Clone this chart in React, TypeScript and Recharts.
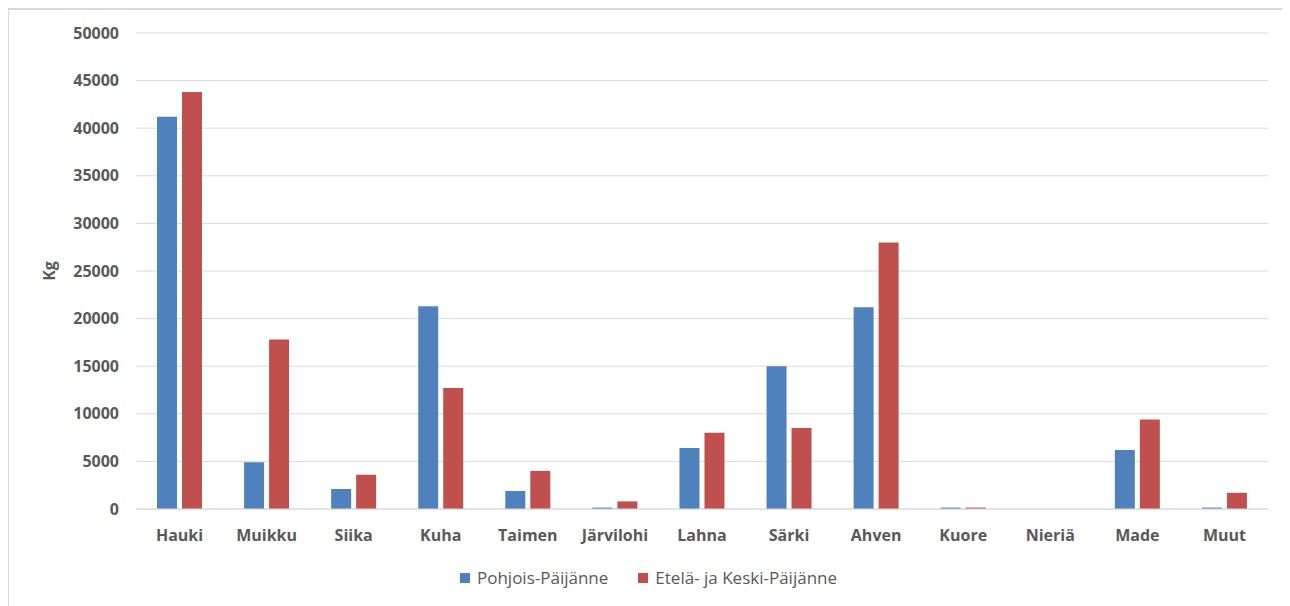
import React from "react";
import { BarChart, Bar, XAxis, YAxis, CartesianGrid, Legend } from "recharts";

const species = [
  "Hauki",
  "Muikku",
  "Siika",
  "Kuha",
  "Taimen",
  "Järvilohi",
  "Lahna",
  "Särki",
  "Ahven",
  "Kuore",
  "Nieriä",
  "Made",
  "Muut",
];
const pohjois = [41200, 4900, 2100, 21300, 1900, 150, 6400, 15000, 21200, 150, 0, 6200, 150];
const etela = [43800, 17800, 3600, 12700, 4000, 800, 8000, 8500, 28000, 150, 0, 9400, 1700];
const yTicks = [0, 5000, 10000, 15000, 20000, 25000, 30000, 35000, 40000, 45000, 50000];
const seriesOrder = ["pohjois", "etela"];

const data = species.map((name, i) => ({
  name,
  pohjois: pohjois[i],
  etela: etela[i],
}));

const FONT = "'Open Sans', sans-serif";
const TEXT_COLOR = "#595959";
const GRID = "#d9d9d9";

const renderKg = ({ viewBox }: any) => {
  const x = 40;
  const y = viewBox.y + viewBox.height / 2;
  return (
    <text
      x={x}
      y={y}
      transform={`rotate(-90, ${x}, ${y})`}
      textAnchor="middle"
      dominantBaseline="central"
      fill={TEXT_COLOR}
      fontFamily={FONT}
      fontSize={16}
      fontWeight="bold"
    >
      Kg
    </text>
  );
};

// oma legenda, jotta välit vastaavat Excelin kuvaa
const renderLegend = ({ payload }: any) => {
  const items = [...(payload || [])].sort(
    (a: any, b: any) => seriesOrder.indexOf(a.dataKey) - seriesOrder.indexOf(b.dataKey)
  );
  return (
    <div style={{ display: "flex", justifyContent: "center", gap: 30 }}>
      {items.map((entry: any) => (
        <div key={entry.dataKey} style={{ display: "flex", alignItems: "center" }}>
          <span
            style={{
              display: "inline-block",
              width: 10,
              height: 10,
              background: entry.color,
              marginRight: 7,
            }}
          />
          <span style={{ color: TEXT_COLOR, fontFamily: FONT, fontSize: 17 }}>
            {entry.value}
          </span>
        </div>
      ))}
    </div>
  );
};

const App: React.FC = () => {
  return (
    <div
      style={{
        width: 1281,
        height: 598,
        borderTop: `2px solid ${GRID}`,
        borderLeft: `2px solid ${GRID}`,
        marginLeft: -1,
        background: "#fff",
        position: "relative",
      }}
    >
      <BarChart
        width={1281}
        height={598}
        data={data}
        margin={{ top: 23, right: 22, left: 20, bottom: 69 }}
        barGap={5}
        barSize={20}
      >
        <CartesianGrid vertical={false} stroke={GRID} strokeWidth={1} />
        <XAxis
          dataKey="name"
          axisLine={{ stroke: GRID }}
          tickLine={false}
          tickSize={0}
          tickMargin={21}
          tick={{ fill: TEXT_COLOR, fontFamily: FONT, fontSize: 16, fontWeight: "bold" }}
          interval={0}
        />
        <YAxis
          width={107}
          domain={[0, 50000]}
          ticks={yTicks}
          axisLine={false}
          tickLine={false}
          tickSize={0}
          tickMargin={17}
          tick={{ fill: TEXT_COLOR, fontFamily: FONT, fontSize: 16, fontWeight: "bold" }}
          label={{ content: renderKg }}
        />
        <Legend
          layout="horizontal"
          align="center"
          verticalAlign="middle"
          content={renderLegend}
          wrapperStyle={{ top: 556 }}
        />
        <Bar
          dataKey="pohjois"
          name="Pohjois-Päijänne"
          fill="#4f81bd"
          isAnimationActive={false}
        />
        <Bar
          dataKey="etela"
          name="Etelä- ja Keski-Päijänne"
          fill="#c0504d"
          isAnimationActive={false}
        />
      </BarChart>
    </div>
  );
};

export default App;
